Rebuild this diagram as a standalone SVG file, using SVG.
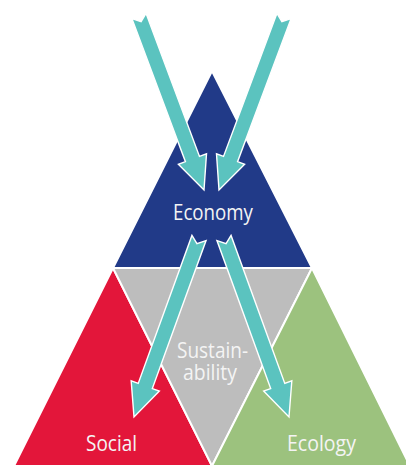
<svg xmlns="http://www.w3.org/2000/svg" width="406" height="466" viewBox="0 0 406 466">
<style>
.tri{stroke:#ffffff;stroke-width:2;stroke-linejoin:miter}
.lbl{font-family:"Open Sans","Liberation Sans",sans-serif;font-size:22px;fill:#f4f4f4;text-anchor:middle}
.arr{fill:#5bc3bf;stroke:#ffffff;stroke-width:1.4;stroke-linejoin:miter}
</style>
<rect width="406" height="466" fill="#ffffff"/>
<g id="economy">
<polygon class="tri" points="212,71 113,268 312,268" fill="#213a88"/>
</g>
<g id="social">
<polygon class="tri" points="113,268 14,466 212,466" fill="#e3163a"/>
</g>
<g id="sustainability">
<polygon class="tri" points="113,268 312,268 212,466" fill="#bdbdbd"/>
</g>
<g id="ecology">
<polygon class="tri" points="312,268 212,466 410,466" fill="#9cc27e"/>
</g>
<g id="connectors">
<polygon class="arr" points="131.97,18.63 141.1,21.62 146.03,13.37 199.48,156.45 206.51,153.83 204,190 178.39,164.33 185.42,161.71"/>
<polygon class="arr" points="291.03,18.63 281.9,21.62 276.97,13.37 223.52,156.45 216.49,153.83 219,190 244.61,164.33 237.58,161.71"/>
<polygon class="arr" points="191.95,235.44 196.95,243.64 206.05,240.56 152.32,388.54 159.37,391.1 134,417 131.17,380.86 138.22,383.42"/>
<polygon class="arr" points="231.05,235.44 226.05,243.64 216.95,240.56 270.68,388.54 263.63,391.1 289,417 291.83,380.86 284.78,383.42"/>
</g>
<g id="labels">
<text class="lbl" x="213" y="220" textLength="80" lengthAdjust="spacingAndGlyphs">Economy</text>
<text class="lbl" x="212.5" y="358" textLength="71" lengthAdjust="spacingAndGlyphs">Sustain-</text>
<text class="lbl" x="210" y="380" textLength="54" lengthAdjust="spacingAndGlyphs">ability</text>
<text class="lbl" x="111.5" y="451" textLength="51" lengthAdjust="spacingAndGlyphs">Social</text>
<text class="lbl" x="321.5" y="451" textLength="69" lengthAdjust="spacingAndGlyphs">Ecology</text>
</g>
</svg>
